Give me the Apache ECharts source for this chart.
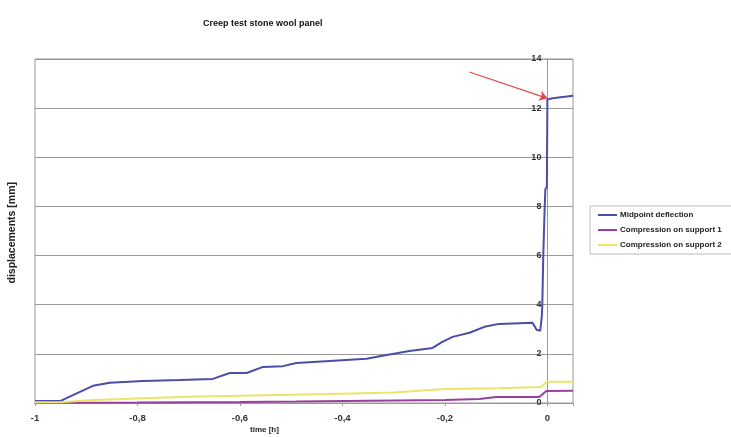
<!DOCTYPE html>
<html>
<head>
<meta charset="utf-8">
<script src="https://cdn.jsdelivr.net/npm/echarts@6/dist/echarts.min.js"></script>
<style>
  html, body { margin: 0; padding: 0; background: #fff; }
  #main { width: 731px; height: 437px; }
</style>
</head>
<body>
<div id="main"></div>
<script>
// series names
var seriesNames = ['Midpoint deflection', 'Compression on support 1', 'Compression on support 2'];

// [time h, displacement mm]
var midpoint = [
  [-1, 0.08], [-0.951, 0.08], [-0.887, 0.7], [-0.854, 0.82], [-0.79, 0.9],
  [-0.717, 0.94], [-0.653, 0.98], [-0.62, 1.22], [-0.587, 1.22], [-0.555, 1.47],
  [-0.516, 1.5], [-0.49, 1.63], [-0.425, 1.71], [-0.353, 1.8], [-0.322, 1.92],
  [-0.269, 2.12], [-0.224, 2.24], [-0.205, 2.49], [-0.185, 2.69], [-0.152, 2.86],
  [-0.123, 3.1], [-0.094, 3.22], [-0.029, 3.27], [-0.021, 2.98], [-0.014, 2.94],
  [-0.011, 3.5], [-0.01, 3.9], [-0.008, 6.0], [-0.0055, 7.8], [-0.004, 8.7],
  [-0.001, 8.8], [0, 12.35], [0.01, 12.4], [0.05, 12.5]
];
var support1 = [
  [-1, 0.01], [-0.8, 0.02], [-0.6, 0.04], [-0.49, 0.06], [-0.2, 0.12],
  [-0.133, 0.16], [-0.1, 0.24], [-0.016, 0.24], [-0.002, 0.49], [0.05, 0.5]
];
var support2 = [
  [-1, 0.03], [-0.951, 0.03], [-0.887, 0.12], [-0.7, 0.25], [-0.6, 0.3],
  [-0.425, 0.37], [-0.3, 0.43], [-0.25, 0.5], [-0.2, 0.57], [-0.094, 0.6],
  [-0.012, 0.65], [-0.002, 0.86], [0.05, 0.86]
];
// red arrow: from -> to
var arrowFrom = [-0.152, 13.47];
var arrowTo = [0, 12.4];

var xMin = -1, xMax = 0.05;
var gridLeft = 35, gridRight = 158;
var plotW = 731 - gridLeft - gridRight;
// y axis sits on time = 0, measured back from the right edge of the plot
var yAxisOffset = -plotW * (xMax - 0) / (xMax - xMin);

var chart = echarts.init(document.getElementById('main'));
var font = 'Liberation Sans, Arial, sans-serif';

var option = {
  animation: false,
  backgroundColor: '#fff',
  textStyle: { fontFamily: font },
  title: {
    text: 'Creep test stone wool panel',
    left: 198, top: 14,
    textStyle: { fontSize: 9, fontWeight: 'bold', color: '#111', fontFamily: font }
  },
  legend: {
    orient: 'vertical',
    left: 590, top: 206,
    padding: [5, 40, 5, 7],
    itemWidth: 19, itemHeight: 8, itemGap: 7,
    borderColor: '#bbb', borderWidth: 1,
    itemStyle: { opacity: 0 },
    textStyle: { fontSize: 8, fontWeight: 'bold', color: '#222', padding: [0, 0, 0, -2] },
    data: seriesNames
  },
  grid: {
    left: gridLeft, right: gridRight, top: 59, bottom: 34,
    show: true, borderColor: '#999', borderWidth: 1
  },
  xAxis: {
    type: 'value', min: xMin, max: xMax, interval: 0.2,
    axisLine: { onZero: false, lineStyle: { color: '#999' } },
    axisTick: { show: true, length: 3, lineStyle: { color: '#999' } },
    splitLine: { show: false },
    axisLabel: {
      fontSize: 9.5, fontWeight: 'bold', color: '#333', margin: 10,
      formatter: function (v) {
        var r = Math.round(v * 10) / 10;
        if (Math.abs(v - r) > 1e-6 || v > 0.01) return '';
        return String(r).replace('.', ',');
      }
    }
  },
  yAxis: {
    type: 'value', min: 0, max: 14, interval: 2,
    position: 'right', offset: yAxisOffset,
    axisLine: { show: true, onZero: false, lineStyle: { color: '#999' } },
    axisTick: { show: false },
    splitLine: { show: true, lineStyle: { color: '#999', width: 1 } },
    axisLabel: { inside: true, fontSize: 9, fontWeight: 'bold', color: '#333', margin: 6 }
  },
  graphic: [{
    type: 'text',
    left: 7, top: 182,
    rotation: Math.PI / 2,
    style: {
      text: 'displacements [mm]',
      font: 'bold 10.5px ' + font,
      fill: '#222'
    }
  }, {
    type: 'text',
    left: 250, top: 426,
    style: {
      text: 'time [h]',
      font: 'bold 8px ' + font,
      fill: '#222'
    }
  }],
  series: [
    {
      name: seriesNames[0], type: 'line', data: midpoint,
      symbol: 'none', lineStyle: { color: '#4a4ea6', width: 2 },
      itemStyle: { color: '#4a4ea6' },
      markLine: {
        silent: true, z: 10,
        symbol: ['none', 'arrow'], symbolSize: 8,
        label: { show: false },
        lineStyle: { color: '#e04848', width: 1.2, type: 'solid' },
        data: [[{ coord: arrowFrom }, { coord: arrowTo }]]
      }
    },
    {
      name: seriesNames[1], type: 'line', data: support1,
      symbol: 'none', lineStyle: { color: '#9a3f9c', width: 2 },
      itemStyle: { color: '#9a3f9c' }
    },
    {
      name: seriesNames[2], type: 'line', data: support2,
      symbol: 'none', lineStyle: { color: '#ece46a', width: 2 },
      itemStyle: { color: '#ece46a' }
    }
  ]
};

chart.setOption(option);
</script>
</body>
</html>
